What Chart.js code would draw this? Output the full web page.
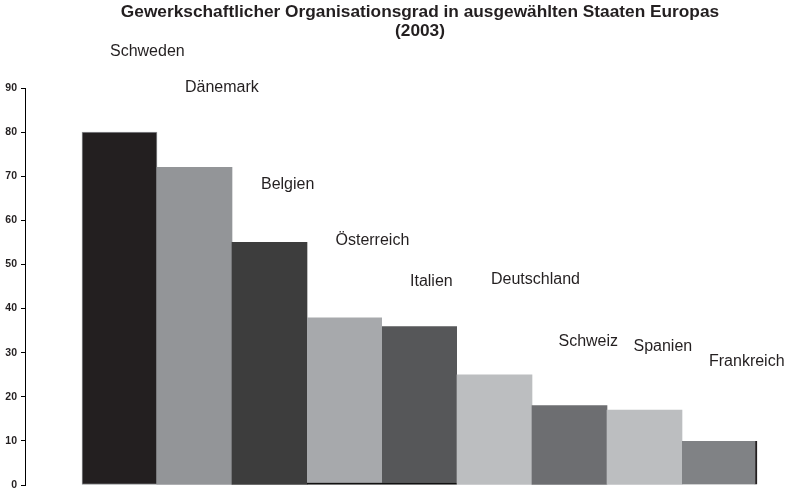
<!DOCTYPE html>
<html><head><meta charset="utf-8">
<script src="https://cdn.jsdelivr.net/npm/chart.js@4/dist/chart.umd.min.js"></script>
<style>html,body{margin:0;padding:0;background:#fff}#wrap{width:789px;height:490px}canvas{display:block}</style>
</head><body><div id="wrap"><canvas id="c" width="789" height="490"></canvas></div>
<script>
// ---- data ----
const titleLines = ['Gewerkschaftlicher Organisationsgrad in ausgewählten Staaten Europas', '(2003)'];
const categories = ['Schweden', 'Dänemark', 'Belgien', 'Österreich', 'Italien', 'Deutschland', 'Schweiz', 'Spanien', 'Frankreich'];
const values = [80, 72, 55, 38, 36, 25, 18, 17, 10];
const yTickValues = [0, 10, 20, 30, 40, 50, 60, 70, 80, 90];
// height (in axis units) at which each country name is written
const labelLevels = [98.2, 90, 68, 55.5, 46.2, 46.5, 32.4, 31.3, 27.9];

// ---- styling / placement ----
const barColors = ['#231f20', '#939598', '#3d3d3d', '#a7a9ac', '#565759', '#bcbec0', '#6d6e71', '#bcbec0', '#808285'];
const labelStyle = { font: '16px "Liberation Sans", Arial, sans-serif', color: '#231f20', dx: [-9.5, -9.5, -8.5, -9, -9.5, -3.5, -11, -11, -10.5] };
const titleStyle = { font: 'bold 17.3px "Liberation Sans", Arial, sans-serif', color: '#231f20', x: 420, y: [12, 31] };

const overlay = {
  id: 'overlay',
  afterDraw(chart) {
    const ctx = chart.ctx;
    const xs = chart.scales.x, ys = chart.scales.y;
    ctx.save();
    ctx.fillStyle = titleStyle.color;
    ctx.font = titleStyle.font;
    ctx.textAlign = 'center';
    ctx.textBaseline = 'middle';
    titleLines.forEach((t, i) => ctx.fillText(t, titleStyle.x, titleStyle.y[i]));
    ctx.font = labelStyle.font;
    ctx.fillStyle = labelStyle.color;
    ctx.textAlign = 'left';
    categories.forEach((c, i) => {
      ctx.fillText(c, xs.getPixelForValue(i) + labelStyle.dx[i], ys.getPixelForValue(labelLevels[i]));
    });
    ctx.restore();
  }
};

new Chart(document.getElementById('c'), {
  type: 'bar',
  data: {
    datasets: [{
      data: values.map((v, i) => ({ x: i, y: v })),
      backgroundColor: barColors,
      borderColor: ['#8f9194', '#000', '#000', '#111', '#111', '#000', '#000', '#000', '#231f20'],
      borderWidth: [1, 0, 0, { bottom: 2 }, { bottom: 2 }, 0, 0, 0, { right: 2 }],
      borderSkipped: false,
      barThickness: 75
    }]
  },
  options: {
    responsive: false,
    animation: false,
    devicePixelRatio: 1,
    layout: { padding: { top: 88, bottom: 5, left: 0, right: 0 } },
    plugins: { legend: { display: false }, title: { display: false }, tooltip: { enabled: false } },
    scales: {
      x: { type: 'linear', min: -1.26, max: 8.9267, offset: false, display: false },
      y: {
        min: 0, max: 90,
        afterBuildTicks: s => { s.ticks = yTickValues.map(v => ({ value: v })); },
        afterFit: s => { s.width = 25; s.paddingTop = 0; s.paddingBottom = 0; },
        ticks: { font: { family: '"Liberation Sans", Arial, sans-serif', size: 10.5, weight: 'bold' }, color: '#231f20', padding: 4 },
        grid: { drawOnChartArea: false, tickLength: 4, color: '#000', lineWidth: 1 },
        border: { color: '#000', width: 1 }
      }
    }
  },
  plugins: [overlay]
});
</script>
</body></html>
